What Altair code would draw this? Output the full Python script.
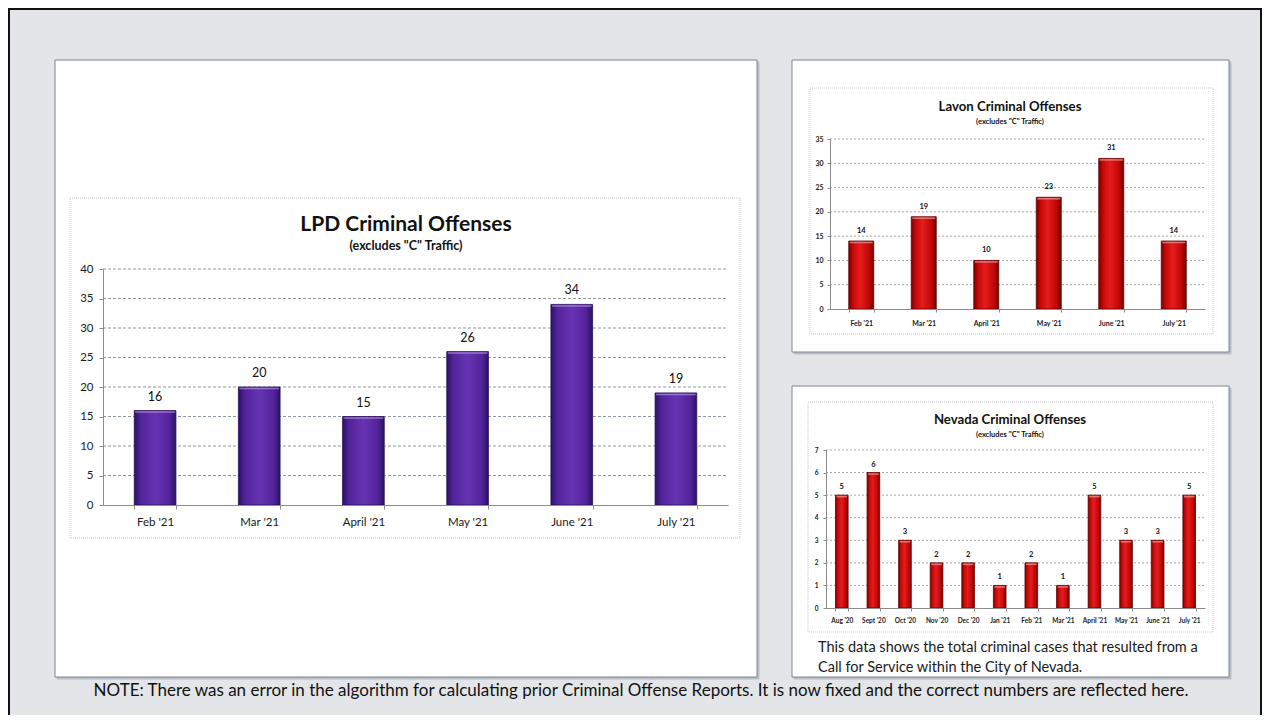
import altair as alt
import pandas as pd

# ---------------- data ----------------
lpd_months = ["Feb '21", "Mar '21", "April '21", "May '21", "June '21", "July '21"]
lpd_values = [16, 20, 15, 26, 34, 19]
lpd_ticks = [0, 5, 10, 15, 20, 25, 30, 35, 40]

lavon_months = ["Feb '21", "Mar '21", "April '21", "May '21", "June '21", "July '21"]
lavon_values = [14, 19, 10, 23, 31, 14]
lavon_ticks = [0, 5, 10, 15, 20, 25, 30, 35]

nevada_months = ["Aug '20", "Sept '20", "Oct '20", "Nov '20", "Dec '20", "Jan '21",
                 "Feb '21", "Mar '21", "April '21", "May '21", "June '21", "July '21"]
nevada_values = [5, 6, 3, 2, 2, 1, 2, 1, 5, 3, 3, 5]
nevada_ticks = [0, 1, 2, 3, 4, 5, 6, 7]

lpd_title = "LPD Criminal Offenses"
lavon_title = "Lavon Criminal Offenses"
nevada_title = "Nevada Criminal Offenses"
subtitle = '(excludes "C" Traffic)'
desc_lines = ["This data shows the total criminal cases that resulted from a",
              "Call for Service within the City of Nevada."]
note = ("NOTE: There was an error in the algorithm for calculating prior Criminal Offense "
        "Reports.  It is now fixed and the correct numbers are reflected here.")

# ---------------- layout ----------------
W, H = 1254, 707
FONT = "Lato"
one = pd.DataFrame({"k": [0]})

purple = alt.Gradient(gradient="linear", x1=0, x2=1, y1=0, y2=0, stops=[
    alt.GradientStop(color="#2a1262", offset=0),
    alt.GradientStop(color="#52239a", offset=0.15),
    alt.GradientStop(color="#6634b2", offset=0.5),
    alt.GradientStop(color="#52239a", offset=0.85),
    alt.GradientStop(color="#2a1262", offset=1)])
red = alt.Gradient(gradient="linear", x1=0, x2=1, y1=0, y2=0, stops=[
    alt.GradientStop(color="#7a0000", offset=0),
    alt.GradientStop(color="#c80808", offset=0.18),
    alt.GradientStop(color="#e41c1c", offset=0.45),
    alt.GradientStop(color="#c00606", offset=0.82),
    alt.GradientStop(color="#6a0000", offset=1)])


def rect(x, y, x2, y2, fill="white", stroke="#8b9199", sw=1, dash=None, fo=1):
    kw = dict(fill=fill, stroke=stroke, strokeWidth=sw, fillOpacity=fo)
    if dash:
        kw["strokeDash"] = dash
    return alt.Chart(one).mark_rect(**kw).encode(
        x=alt.value(x), x2=alt.value(x2), y=alt.value(y), y2=alt.value(y2))


def label(s, x, y, size, weight="normal", align="center", color="#111111"):
    return alt.Chart(pd.DataFrame({"t": [s]})).mark_text(
        font=FONT, fontSize=size, fontWeight=weight, align=align,
        baseline="middle", color=color).encode(
        x=alt.value(x), y=alt.value(y), text="t:N")


def panel(months, values, ticks, xr, yr, fill, top, edge, lab_size, val_size,
          val_dy, ytick, ypad, xtick, xpad, grid_color, grid_dash, weight):
    df = pd.DataFrame({"month": months, "value": values})
    gdf = pd.DataFrame({"value": ticks[1:]})
    xs = alt.Scale(domain=months, range=xr, paddingInner=0.6, paddingOuter=0.3)
    ys = alt.Scale(domain=[ticks[0], ticks[-1]], range=yr, nice=False, zero=True)
    yaxis = alt.Axis(orient="left", offset=-xr[0], values=ticks, title=None, grid=False,
                     labelFont=FONT, labelFontSize=lab_size, labelColor="#1a1a1a",
                     labelFontWeight=weight, zindex=1,
                     tickSize=ytick, labelPadding=ypad, domainColor="#8c8c8c",
                     tickColor="#8c8c8c", labelOverlap=False)
    xaxis = alt.Axis(orient="bottom", offset=yr[0] - H, title=None, grid=False,
                     labelAngle=0, tickBand="extent", labelFont=FONT, zindex=1,
                     labelFontSize=lab_size, labelColor="#1a1a1a", labelFontWeight=weight,
                     tickSize=xtick, labelPadding=xpad, domainColor="#8c8c8c",
                     tickColor="#8c8c8c", labelOverlap=False, labelBound=False)
    X = alt.X("month:N", sort=months, scale=xs, axis=xaxis)
    Y = alt.Y("value:Q", scale=ys, axis=yaxis)
    step = (xr[1] - xr[0]) / len(months)
    bw = step * 0.4
    grid = alt.Chart(gdf).mark_rule(color=grid_color, strokeDash=grid_dash,
                                    strokeWidth=1).encode(
        x=alt.value(xr[0]), x2=alt.value(xr[1]), y=Y)
    bars = alt.Chart(df).mark_bar(color=fill, stroke=edge, strokeWidth=0.8).encode(x=X, y=Y)
    hl = alt.Chart(df).mark_tick(color=top, thickness=1.5, size=max(bw - 2, 2),
                                 yOffset=1.5).encode(x=X, y=Y)
    vals = alt.Chart(df).mark_text(font=FONT, fontSize=val_size, fontWeight=weight,
                                   color="#111111", baseline="middle", dy=val_dy).encode(
        x=X, y=Y, text="value:Q")
    return alt.layer(grid, bars, hl, vals)


lpd = panel(lpd_months, lpd_values, lpd_ticks, [95, 720], [497, 261], purple,
            "#b792e6", "#24105a", 11.5, 12.5, -14, 4, 6, 4, 7, "#8e99a6", [3, 2], "normal")
lavon = panel(lavon_months, lavon_values, lavon_ticks, [822, 1197], [301, 131], red,
              "#f4a0a0", "#600000", 7, 7.5, -10, 3, 4, 3, 7, "#a6a6a6", [2, 2], "bold")
nevada = panel(nevada_months, nevada_values, nevada_ticks, [818, 1197], [600, 442], red,
               "#f4a0a0", "#600000", 6.5, 7.5, -8, 3, 5, 3, 6, "#a6a6a6", [2, 2], "bold")

deco = [
    rect(1, 1, 1253, 740, fill="#e3e5e9", stroke="#111111", sw=2),
    # panel shadows
    rect(49, 54, 751, 671, fill="#b9bec6", stroke="#b9bec6"),
    rect(786, 54, 1223, 346, fill="#b9bec6", stroke="#b9bec6"),
    rect(786, 380, 1223, 671, fill="#b9bec6", stroke="#b9bec6"),
    # white panels
    rect(47, 52, 749, 669, stroke="#7f8690"),
    rect(784, 52, 1221, 344, stroke="#7f8690"),
    rect(784, 378, 1221, 669, stroke="#7f8690"),
    # chart boxes
    rect(62, 190, 732, 530, stroke="#c3c7cd", dash=[1, 1]),
    rect(802, 80, 1205, 326, stroke="#c3c7cd", dash=[1, 1]),
    rect(800, 394, 1205, 624, stroke="#c3c7cd", dash=[1, 1]),
]
texts = [
    label(lpd_title, 398, 217, 21, "bold"),
    label(subtitle, 398, 238, 12.5, "bold"),
    label(lavon_title, 1002, 99, 13.2, "bold"),
    label(subtitle, 1002, 114, 7.5, "bold"),
    label(nevada_title, 1002, 412, 13.2, "bold"),
    label(subtitle, 1002, 427, 7.5, "bold"),
    label(desc_lines[0], 810, 640, 14.5, align="left", color="#1a1a1a"),
    label(desc_lines[1], 810, 660, 14.5, align="left", color="#1a1a1a"),
    label(note, 633, 683, 17, color="#111111"),
]

chart = alt.layer(*deco, lpd, lavon, nevada, *texts).resolve_scale(
    x="independent", y="independent").properties(
    width=W, height=H, padding=0,
    autosize=alt.AutoSizeParams(type="none"),
    background="#ffffff").configure_view(strokeWidth=0)

chart.save("out.html", embed_options={"renderer": "svg", "actions": False})
